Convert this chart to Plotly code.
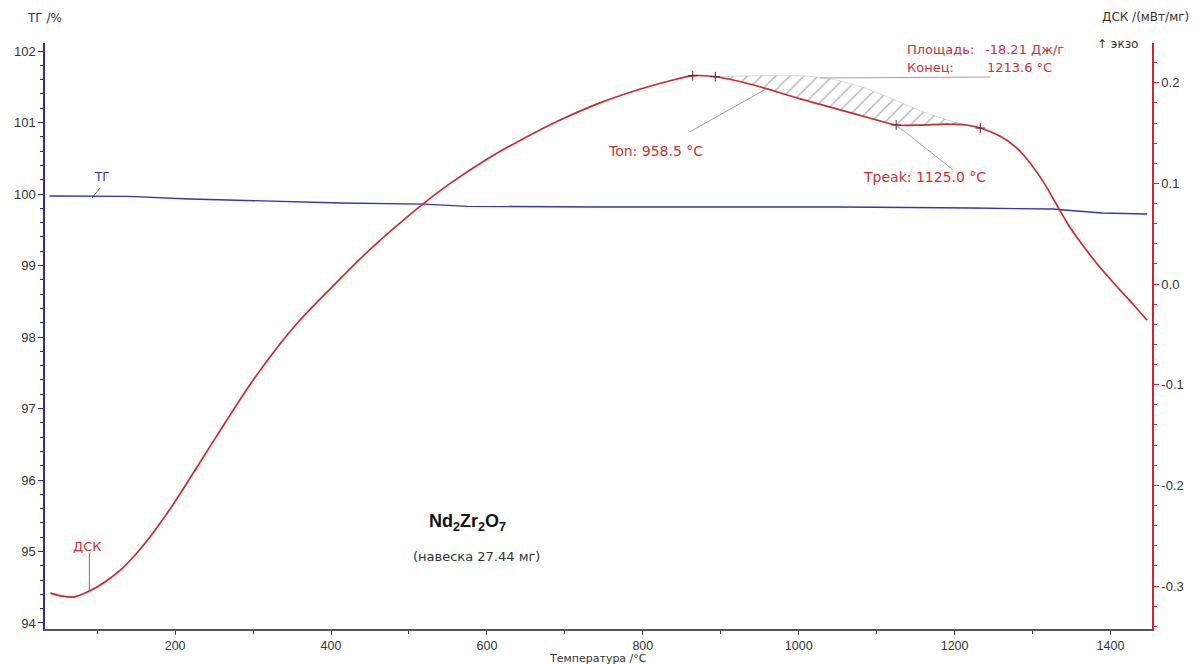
import numpy as np
import plotly.graph_objects as go

# --- DSC curve (mW/mg) vs temperature (°C) ---
dsc_t = [40, 55, 70, 90, 110, 133, 150, 168, 200, 232, 264, 296, 330, 360, 400,
         440, 480, 517, 553, 600, 643, 694, 745, 798, 835, 864, 893, 920,
         950, 1002, 1044, 1091, 1125, 1156, 1190, 1215, 1233, 1258, 1280, 1297,
         1315, 1330, 1345, 1362, 1385, 1410, 1430, 1447]
dsc_v = [-0.307, -0.310, -0.311, -0.305, -0.296, -0.282, -0.268, -0.251, -0.216,
         -0.177, -0.138, -0.100, -0.064, -0.036, -0.004, 0.027, 0.055, 0.079,
         0.100, 0.124, 0.143, 0.163, 0.180, 0.194, 0.202, 0.207, 0.206, 0.202,
         0.196, 0.184, 0.175, 0.165, 0.158, 0.158, 0.159, 0.158, 0.155, 0.147,
         0.135, 0.120, 0.100, 0.080, 0.060, 0.041, 0.018, -0.004, -0.021, -0.036]

# --- TG curve (%) vs temperature (°C) ---
tg_t = [39, 140, 219, 305, 412, 519, 575, 746, 1055, 1222, 1325, 1389, 1447]
tg_v = [99.972, 99.968, 99.930, 99.902, 99.874, 99.858, 99.828, 99.818, 99.818,
        99.804, 99.790, 99.734, 99.720]

# --- Peak evaluation: sigmoid baseline under the exothermic effect ---
base_t = [893, 950, 1000, 1040, 1080, 1120, 1160, 1200, 1233]
base_v = [0.206, 0.207, 0.207, 0.204, 0.196, 0.184, 0.171, 0.161, 0.155]
mark_t = [864, 893, 1125, 1233]          # evaluation markers on the curve
t_onset = 958.5
t_peak = 1125.0
t_end = 1213.6
peak_area = -18.21

# --- Axis ticks ---
x_ticks = [200, 400, 600, 800, 1000, 1200, 1400]
tg_ticks = [94, 95, 96, 97, 98, 99, 100, 101, 102]
dsc_ticks = [-0.3, -0.2, -0.1, 0.0, 0.1, 0.2]

RED = "#cc2b2b"
RED_AX = "#c42a3c"
RED_TXT = "#cf3030"
BLUE = "#3535b2"
NAVY = "#2d2d96"
GRAY = "#8a8a8a"
TXT = "#333333"
FONT = "Liberation Sans, Arial, sans-serif"
WIDE = "DejaVu Sans, Verdana, sans-serif"

W, H = 1203, 664
L, R, T, B = 45, 1152, 43, 629


def px(x):
    return (x - L) / (R - L)


def py(y):
    return (B - y) / (B - T)


def dsc_at(t):
    return float(np.interp(t, dsc_t, dsc_v))


fig = go.Figure()

# hatched area between baseline and the curve
dt = np.array(dsc_t, dtype=float)
dv = np.array(dsc_v, dtype=float)
inside = (dt > base_t[0]) & (dt < base_t[-1])
poly_t = list(base_t) + list(dt[inside][::-1]) + [base_t[0]]
poly_v = list(base_v) + list(dv[inside][::-1]) + [base_v[0]]
fig.add_trace(go.Scatter(
    x=poly_t, y=poly_v, yaxis="y2", mode="lines", fill="toself",
    line=dict(width=0, color="rgba(0,0,0,0)"),
    fillcolor="rgba(255,255,255,0)",
    fillpattern=dict(shape="/", size=10, solidity=0.12, fgcolor="#5a5a5a",
                     bgcolor="rgba(255,255,255,0)"),
    hoverinfo="skip", showlegend=False))

# baseline edge (faint)
fig.add_trace(go.Scatter(
    x=base_t, y=base_v, yaxis="y2", mode="lines",
    line=dict(color="rgba(140,140,140,0.45)", width=0.7, shape="spline"),
    hoverinfo="skip", showlegend=False))

# TG curve
fig.add_trace(go.Scatter(
    x=tg_t, y=tg_v, mode="lines", line=dict(color=BLUE, width=1.3),
    showlegend=False, name="ТГ"))

# DSC curve
fig.add_trace(go.Scatter(
    x=dsc_t, y=dsc_v, yaxis="y2", mode="lines",
    line=dict(color=RED, width=1.7, shape="spline", smoothing=0.8),
    showlegend=False, name="ДСК"))

# evaluation markers
fig.add_trace(go.Scatter(
    x=mark_t, y=[dsc_at(t) for t in mark_t], yaxis="y2", mode="markers",
    marker=dict(symbol="cross-thin", size=7, line=dict(color="#6a2020", width=1)),
    hoverinfo="skip", showlegend=False))

shapes = []
# leader lines
shapes.append(dict(type="line", xref="x", yref="y2", x0=t_onset, y0=dsc_at(t_onset),
                   x1=(690 - 19.2) / 0.7795, y1=(284.2 - 132) / 1006,
                   line=dict(color=GRAY, width=0.8)))
shapes.append(dict(type="line", xref="x", yref="y2", x0=t_peak, y0=dsc_at(t_peak),
                   x1=(953 - 19.2) / 0.7795, y1=(284.2 - 170) / 1006,
                   line=dict(color=GRAY, width=0.8)))
shapes.append(dict(type="line", xref="paper", yref="paper", x0=px(820), y0=py(78),
                   x1=px(990), y1=py(77), line=dict(color=GRAY, width=0.8)))
# series label leaders
shapes.append(dict(type="line", xref="paper", yref="paper", x0=px(92), y0=py(198),
                   x1=px(100), y1=py(188), line=dict(color=BLUE, width=0.8)))
shapes.append(dict(type="line", xref="x", yref="y2", x0=90, y0=dsc_at(90),
                   x1=90, y1=(284.2 - 553) / 1006,
                   line=dict(color="#7a4040", width=0.8)))

ann = []


def text(x, y, s, size=12, color=TXT, xanchor="left", family=WIDE):
    ann.append(dict(x=px(x), y=py(y), xref="paper", yref="paper", text=s,
                    showarrow=False, xanchor=xanchor, yanchor="middle",
                    font=dict(size=size, color=color, family=family)))


text(25, 18, "ТГ /%", 12)
text(1191, 17, "ДСК /(мВт/мг)", 12, xanchor="right")
text(1095, 44, "↑ экзо", 12)
text(905, 50, "Площадь:", 13, RED_TXT)
text(1066, 50, f"{peak_area:.2f} Дж/г", 13, RED_TXT, xanchor="right")
text(905, 68, "Конец:", 13, RED_TXT)
text(1054, 68, f"{t_end:.1f} °C", 13, RED_TXT, xanchor="right")
text(606, 151, f"Ton: {t_onset:.1f} °C", 14, RED_TXT)
text(861, 177, f"Tpeak: {t_peak:.1f} °C", 14, RED_TXT)
text(92, 177, "ТГ", 12, BLUE)
text(71, 546, "ДСК", 13, RED_TXT)
text(467, 522, "<b>Nd<sub>2</sub>Zr<sub>2</sub>O<sub>7</sub></b>", 18, "#111111",
     xanchor="center", family=FONT)
text(476, 556, "(навеска 27.44 мг)", 13, TXT, xanchor="center")
text(598, 658, "Температура /°C", 11, TXT, xanchor="center")

fig.update_layout(
    width=W, height=H,
    margin=dict(l=L, r=W - R, t=T, b=H - B, pad=0),
    paper_bgcolor="white", plot_bgcolor="white",
    font=dict(family=FONT, size=13, color=TXT),
    shapes=shapes, annotations=ann, showlegend=False,
    xaxis=dict(range=[33.1, 1453.2], tickvals=x_ticks, ticks="outside",
               ticklen=4, tickcolor="#444", showline=True, linecolor="#555",
               linewidth=1.5, showgrid=False, zeroline=False,
               tickfont=dict(size=12.5, color=TXT),
               minor=dict(tickmode="linear", tick0=0, dtick=100, ticks="outside",
                          ticklen=3, tickcolor="#444")),
    yaxis=dict(range=[93.916, 102.112], tickvals=tg_ticks, ticks="outside",
               ticklen=5, tickcolor=NAVY, showline=True, linecolor=NAVY,
               linewidth=1.5, showgrid=False, zeroline=False,
               tickfont=dict(size=13, color=TXT),
               minor=dict(tickmode="linear", tick0=94, dtick=0.2, ticks="outside",
                          ticklen=3, tickcolor=NAVY)),
    yaxis2=dict(range=[-0.3427, 0.2395], overlaying="y", side="right",
                tickvals=dsc_ticks, ticktext=[f"{v:.1f}" for v in dsc_ticks],
                ticks="outside", ticklen=5, tickcolor=RED_AX, showline=True,
                linecolor=RED_AX, linewidth=1.5, showgrid=False, zeroline=False,
                tickfont=dict(size=13, color=TXT),
                minor=dict(tickmode="linear", tick0=0, dtick=0.02, ticks="outside",
                           ticklen=3, tickcolor=RED_AX)),
)

fig.write_html("out.html")
